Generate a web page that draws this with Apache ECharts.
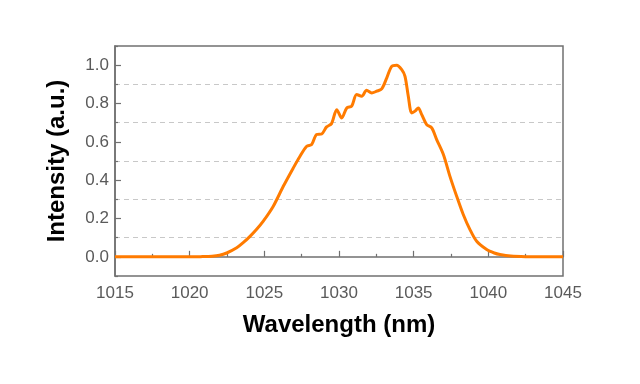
<!DOCTYPE html>
<html>
<head>
<meta charset="utf-8">
<script src="https://cdn.jsdelivr.net/npm/echarts@6/dist/echarts.min.js"></script>
<style>html,body{margin:0;padding:0;background:#fff}#c{width:640px;height:384px}</style>
</head>
<body>
<div id="c"></div>
<script>
const wavelength = [1015, 1018, 1020, 1020.7, 1021.5, 1022.0, 1022.48, 1023.15, 1023.6, 1024.04, 1024.5, 1024.93, 1025.6, 1026.27, 1026.94, 1027.39, 1027.84, 1028.17, 1028.5, 1028.84, 1029.17, 1029.5, 1029.85, 1030.18, 1030.52, 1030.85, 1031.18, 1031.52, 1031.85, 1032.19, 1032.52, 1032.86, 1033.2, 1033.53, 1033.86, 1034.2, 1034.42, 1034.64, 1034.87, 1035.09, 1035.31, 1035.54, 1035.87, 1036.21, 1036.54, 1036.99, 1037.43, 1037.88, 1038.32, 1038.77, 1039.22, 1039.89, 1040.4, 1040.78, 1041.5, 1042.5, 1045];
const intensity = [0, 0, 0, 0.001, 0.003, 0.008, 0.02, 0.047, 0.075, 0.107, 0.145, 0.186, 0.264, 0.368, 0.464, 0.525, 0.577, 0.586, 0.638, 0.641, 0.678, 0.695, 0.768, 0.725, 0.777, 0.786, 0.847, 0.838, 0.869, 0.855, 0.864, 0.876, 0.934, 0.994, 1.0, 0.977, 0.942, 0.838, 0.751, 0.76, 0.777, 0.742, 0.69, 0.673, 0.612, 0.534, 0.42, 0.316, 0.221, 0.142, 0.081, 0.038, 0.02, 0.012, 0.004, 0.001, 0];
const yLabels = [0, 0.2, 0.4, 0.6, 0.8, 1.0];
const xTicks = [1015, 1020, 1025, 1030, 1035, 1040, 1045];

const data = wavelength.map((w, i) => [w, intensity[i]]);
const axisColor = '#707070';
const font = 'Liberation Sans, Arial, sans-serif';
const chart = echarts.init(document.getElementById('c'), null, {renderer: 'canvas'});
chart.setOption({
  animation: false,
  grid: {left: 115, right: 77, top: 46, bottom: 108, show: true, borderColor: axisColor, borderWidth: 1.5, backgroundColor: 'transparent'},
  xAxis: {
    type: 'value', min: 1015, max: 1045, interval: 5,
    name: 'Wavelength (nm)', nameLocation: 'middle', nameGap: 37,
    nameTextStyle: {fontFamily: font, fontWeight: 'bold', fontSize: 24, color: '#000'},
    axisLine: {show: true, lineStyle: {color: axisColor, width: 1.5}},
    axisTick: {show: true, inside: true, length: 6, lineStyle: {color: axisColor, width: 1.2}},
    minorTick: {show: true, splitNumber: 2, length: 3, lineStyle: {color: axisColor, width: 1.2}},
    axisLabel: {fontFamily: font, fontSize: 17, color: '#5a5a5a', margin: 9, customValues: xTicks, formatter: v => String(v)},
    splitLine: {show: false}
  },
  yAxis: [{
    type: 'value', min: -0.1, max: 1.1, interval: 0.1,
    name: 'Intensity (a.u.)', nameLocation: 'middle', nameGap: 46,
    nameTextStyle: {fontFamily: font, fontWeight: 'bold', fontSize: 24, color: '#000'},
    axisLine: {show: true, lineStyle: {color: axisColor, width: 1.5}},
    axisTick: {show: true, inside: true, length: 6, customValues: yLabels, lineStyle: {color: axisColor, width: 1.2}},
    axisLabel: {fontFamily: font, fontSize: 17, color: '#5a5a5a', margin: 6, customValues: yLabels, formatter: v => v.toFixed(1)},
    splitLine: {show: false}
  }, {
    type: 'value', min: -0.1, max: 1.1, interval: 0.2, position: 'left',
    axisLine: {show: false},
    axisTick: {show: true, inside: true, length: 3, lineStyle: {color: axisColor, width: 1.2}},
    axisLabel: {show: false},
    splitLine: {show: true, showMinLine: false, showMaxLine: false, lineStyle: {color: '#c8c8c8', width: 1, type: [5, 4]}}
  }],
  series: [{
    type: 'line', data: data, showSymbol: false, smooth: 0.3,
    lineStyle: {color: '#ff7b00', width: 3},
    z: 5
  }]
});
</script>
</body>
</html>
